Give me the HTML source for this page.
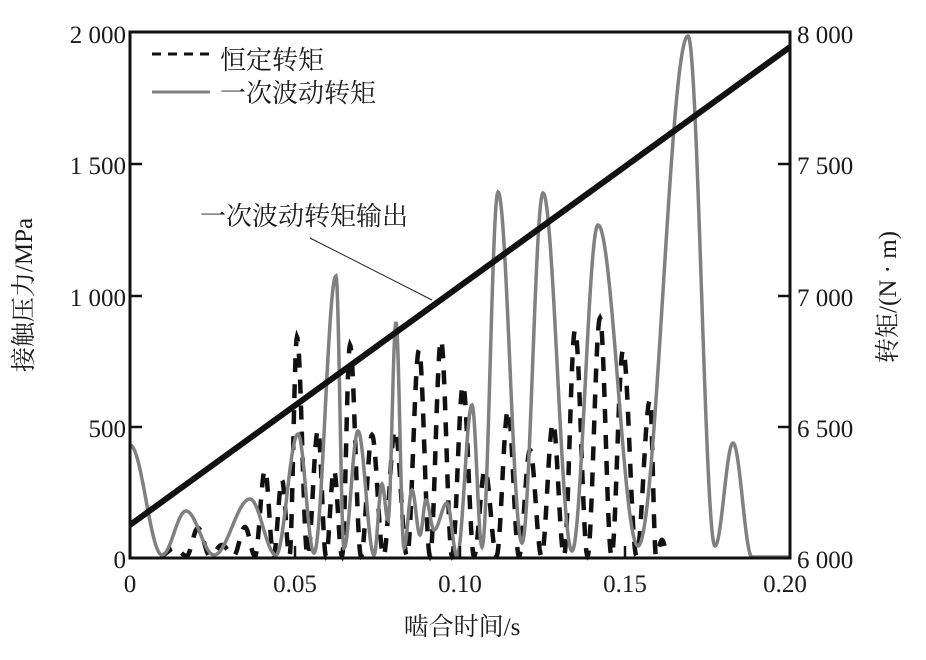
<!DOCTYPE html>
<html><head><meta charset="utf-8"><style>
body{margin:0;background:#fff;}
text{font-family:"Liberation Serif","Noto Serif CJK SC",serif;fill:#1a1a1a;}
</style></head><body>
<svg id="s" width="926" height="655" xmlns="http://www.w3.org/2000/svg">
<g id="g"></g>
<rect x="130" y="32" width="660" height="526" fill="none" stroke="#111" stroke-width="3"/>
<g stroke="#111" stroke-width="2.5">
<line x1="130" y1="164" x2="142" y2="164"/><line x1="130" y1="296" x2="142" y2="296"/><line x1="130" y1="427" x2="142" y2="427"/>
<line x1="790" y1="164" x2="778" y2="164"/><line x1="790" y1="296" x2="778" y2="296"/><line x1="790" y1="427" x2="778" y2="427"/>
<line x1="295" y1="558" x2="295" y2="546"/><line x1="460" y1="558" x2="460" y2="546"/><line x1="625" y1="558" x2="625" y2="546"/>
</g>
<g font-size="25" text-anchor="end">
<text x="126" y="43">2 000</text><text x="126" y="174">1 500</text><text x="126" y="306">1 000</text><text x="126" y="437">500</text><text x="126" y="568">0</text>
</g>
<g font-size="25" text-anchor="start">
<text x="797" y="43">8 000</text><text x="797" y="174">7 500</text><text x="797" y="306">7 000</text><text x="797" y="437">6 500</text><text x="797" y="568">6 000</text>
</g>
<g font-size="25" text-anchor="middle">
<text x="130" y="592">0</text><text x="295" y="592">0.05</text><text x="460" y="592">0.10</text><text x="625" y="592">0.15</text><text x="785" y="592">0.20</text>
<text x="462" y="635">啮合时间/s</text>
<text transform="translate(32,295) rotate(-90)">接触压力/MPa</text>
<text transform="translate(896,297) rotate(-90)">转矩/(N · m)</text>
</g>
<line x1="152" y1="54" x2="210" y2="54" stroke="#111" stroke-width="3" stroke-dasharray="9 7"/>
<line x1="152" y1="92" x2="210" y2="92" stroke="#808080" stroke-width="3"/>
<g font-size="26"><text x="220" y="69">恒定转矩</text><text x="220" y="102">一次波动转矩</text><text x="200" y="225">一次波动转矩输出</text></g>
<line x1="310" y1="238" x2="432" y2="300" stroke="#222" stroke-width="1"/>
<line x1="130" y1="525" x2="790" y2="47" stroke="#111" stroke-width="6"/>
</svg>
<script>
var g=document.getElementById('g');
function cosInterp(pts,step){var d='';for(var i=0;i<pts.length-1;i++){var a=pts[i],b=pts[i+1];for(var x=a[0];x<b[0];x+=step){var t=(x-a[0])/(b[0]-a[0]);var m=(1-Math.cos(Math.PI*t))/2;var y=a[1]+(b[1]-a[1])*m;d+=(d?'L':'M')+x.toFixed(1)+' '+y.toFixed(1);}}var l=pts[pts.length-1];d+='L'+l[0]+' '+l[1];return d;}
var gray=[[130,445],[162,555],[186,511],[214,555],[250,499],[276,555],[298,434],[314,553],[336,276],[344,548],[358,431],[374,555],[382,484],[388,520],[396,322],[404,548],[412,490],[420,535],[426,500],[434,530],[447,503],[457,556],[472,405],[482,547],[498,192],[522,543],[543,193],[572,551],[598,225],[638,546],[688,36],[715,546],[733,443],[752,557],[790,557]];
var pk=[[175,548],[198,528],[222,545],[245,527],[265,470],[282,480],[297,337],[318,430],[334,470],[350,345],[372,435],[395,430],[419,350],[441,340],[463,385],[485,470],[508,410],[530,450],[553,423],[575,330],[600,318],[623,350],[650,400],[662,540]];
var bp=[[160,556]];for(var i=0;i<pk.length;i++){bp.push(pk[i]);if(i<pk.length-1)bp.push([(pk[i][0]+pk[i+1][0])/2,556]);}bp.push([668,556]);
var p1=document.createElementNS('http://www.w3.org/2000/svg','path');
p1.setAttribute('d',cosInterp(bp,0.5));p1.setAttribute('fill','none');p1.setAttribute('stroke','#111');p1.setAttribute('stroke-width','4.5');p1.setAttribute('stroke-dasharray','14 12');g.appendChild(p1);
var p2=document.createElementNS('http://www.w3.org/2000/svg','path');
p2.setAttribute('d',cosInterp(gray,0.5));p2.setAttribute('fill','none');p2.setAttribute('stroke','#808080');p2.setAttribute('stroke-width','3.5');g.appendChild(p2);
</script>
</body></html>
